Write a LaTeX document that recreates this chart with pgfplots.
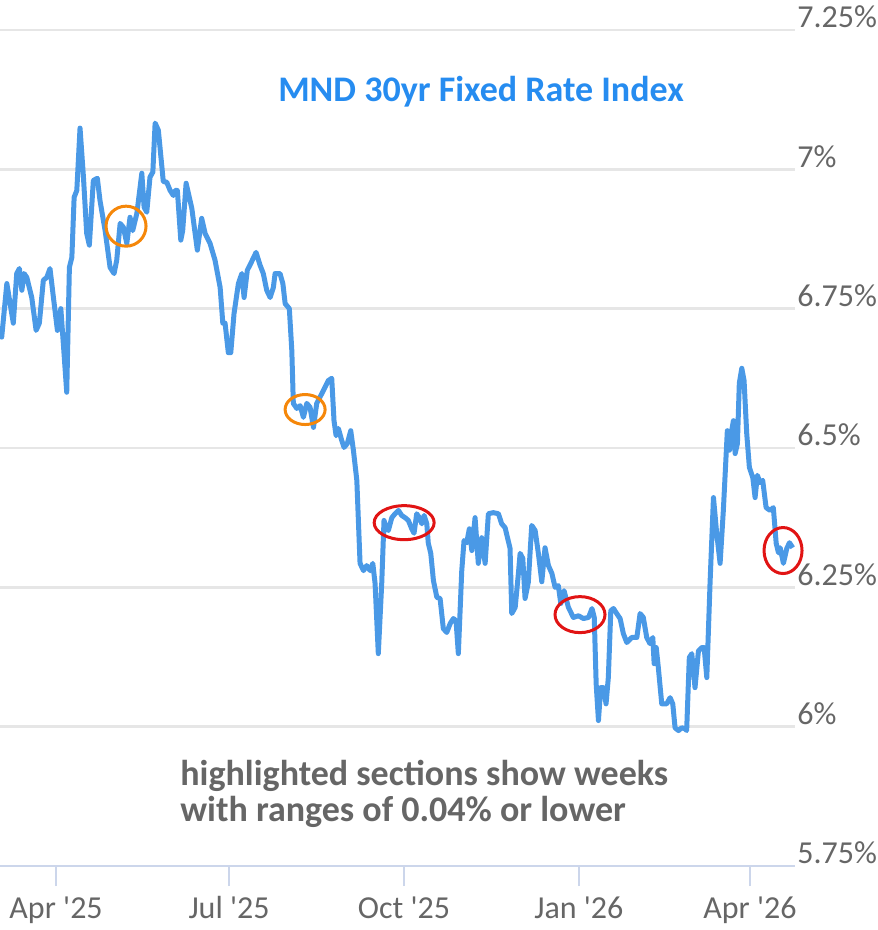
\documentclass[border=0pt]{standalone}
\usepackage{pgfplots}
\pgfplotsset{compat=1.18}
\usepackage{pgfplotstable}
\usepackage{fontspec}
\setmainfont{Carlito}[Ligatures=TeXOff]
\definecolor{rateline}{RGB}{74,153,230}
\definecolor{gridgray}{RGB}{230,230,230}
\definecolor{axisblue}{RGB}{204,214,235}
\definecolor{labelgray}{RGB}{102,102,102}
\definecolor{titleblue}{RGB}{38,140,240}
\definecolor{ringorange}{RGB}{245,135,10}
\definecolor{ringred}{RGB}{225,20,20}

% day 0 = 1 Apr 2025; rate in percent
\pgfplotstableread{
d v
-29.5 6.711
-28.6 6.699
-25.9 6.795
-22.5 6.724
-20.7 6.813
-19.3 6.822
-18.0 6.783
-16.8 6.813
-15.4 6.806
-12.8 6.770
-10.5 6.711
-8.8 6.724
-6.7 6.801
-4.9 6.806
-3.2 6.822
-1.4 6.770
0.7 6.711
2.5 6.750
3.8 6.688
5.6 6.600
7.0 6.824
8.3 6.842
9.5 6.950
10.9 6.962
12.6 7.074
14.4 6.986
16.1 6.885
17.5 6.864
19.6 6.980
21.7 6.984
23.1 6.944
25.8 6.890
28.4 6.824
30.5 6.813
31.9 6.837
33.7 6.903
35.4 6.896
37.2 6.867
38.9 6.914
40.3 6.890
42.5 6.921
45.1 6.993
46.3 6.932
47.7 6.923
49.4 6.986
50.9 6.995
52.1 7.083
53.8 7.070
56.4 6.978
58.2 6.977
60.0 6.962
61.7 6.953
62.6 6.962
63.8 6.962
65.6 6.873
66.6 6.890
68.4 6.975
71.4 6.930
74.3 6.855
76.6 6.912
78.4 6.885
81.0 6.867
83.6 6.837
86.3 6.788
87.7 6.724
88.9 6.724
90.6 6.671
91.9 6.671
93.6 6.741
95.9 6.795
97.7 6.813
98.9 6.770
100.6 6.819
102.4 6.831
105.2 6.851
107.3 6.828
109.0 6.813
110.8 6.783
112.6 6.770
114.3 6.788
115.2 6.813
117.8 6.813
119.3 6.795
120.5 6.759
122.7 6.750
124.0 6.675
124.8 6.580
126.6 6.571
128.4 6.576
130.1 6.555
131.9 6.580
133.6 6.573
135.4 6.537
137.1 6.580
140.6 6.603
143.2 6.621
145.0 6.625
146.2 6.549
147.3 6.522
148.5 6.535
150.3 6.513
151.5 6.501
153.2 6.508
155.0 6.531
156.4 6.496
158.2 6.442
159.9 6.293
161.7 6.280
163.4 6.289
165.2 6.280
166.6 6.293
167.8 6.257
169.5 6.131
171.3 6.257
172.5 6.370
173.6 6.357
174.8 6.352
176.6 6.375
178.3 6.382
180.1 6.388
181.8 6.379
183.6 6.375
185.3 6.370
187.1 6.355
188.3 6.347
189.7 6.382
191.1 6.375
192.4 6.364
193.6 6.379
195.0 6.364
195.8 6.329
197.1 6.311
198.5 6.262
200.3 6.232
202.0 6.230
203.7 6.176
205.5 6.169
207.3 6.185
209.0 6.194
210.4 6.190
211.6 6.131
213.4 6.280
214.6 6.334
216.0 6.330
217.4 6.355
218.7 6.316
220.4 6.375
222.1 6.293
223.9 6.339
225.7 6.293
227.4 6.382
230.0 6.384
232.7 6.382
234.4 6.364
236.2 6.357
238.8 6.320
239.7 6.203
241.5 6.214
243.2 6.275
244.1 6.311
245.5 6.302
246.7 6.230
248.4 6.259
250.2 6.361
252.0 6.352
253.7 6.311
255.5 6.260
257.2 6.321
259.0 6.289
260.8 6.275
262.5 6.250
264.2 6.253
265.5 6.221
267.2 6.244
269.5 6.214
272.1 6.196
274.8 6.199
277.4 6.194
280.1 6.196
281.9 6.212
283.1 6.196
284.1 6.077
285.3 6.011
286.5 6.070
287.9 6.070
289.3 6.041
290.5 6.088
291.8 6.208
293.2 6.212
294.9 6.203
296.7 6.194
298.4 6.167
300.2 6.151
302.8 6.160
305.5 6.160
307.2 6.203
308.9 6.196
310.7 6.160
312.4 6.149
313.9 6.160
314.6 6.113
315.7 6.142
316.8 6.106
318.6 6.041
321.2 6.041
323.0 6.052
324.4 6.041
325.6 5.998
327.4 5.993
329.1 5.998
330.9 5.996
331.7 5.993
333.1 6.124
334.4 6.131
336.1 6.070
337.9 6.136
339.7 6.142
340.9 6.142
342.3 6.088
344.0 6.257
345.8 6.411
347.5 6.347
349.3 6.293
351.0 6.388
353.1 6.531
354.2 6.496
355.4 6.531
356.3 6.549
357.2 6.490
358.4 6.508
359.4 6.616
360.7 6.643
361.9 6.621
363.3 6.526
364.7 6.465
366.5 6.447
367.7 6.411
368.9 6.451
370.3 6.438
371.7 6.442
373.5 6.393
375.6 6.388
377.3 6.393
378.8 6.329
380.0 6.312
380.9 6.321
382.6 6.293
384.4 6.320
385.8 6.330
387.5 6.321
}\ratedata

\begin{document}
\begin{tikzpicture}
\useasboundingbox (0,-32pt) rectangle (438.5pt,433pt);
\begin{axis}[
  at={(0,0)}, anchor=south west,
  scale only axis, width=397.5pt, height=418pt,
  xmin=-29.5, xmax=388.7, ymin=5.75, ymax=7.25,
  axis line style={draw=none},
  clip=false,
  ymajorgrids, grid style={color=gridgray, line width=1.2pt},
  xtick={0,91,183,275,365},
  xticklabels={Apr '25,Jul '25,Oct '25,Jan '26,Apr '26},
  xtick pos=bottom, tick align=outside, major tick length=10pt,
  xtick style={color=axisblue, line width=1pt},
  ytick={5.75,6,6.25,6.5,6.75,7,7.25},
  yticklabels={5.75\%,6\%,6.25\%,6.5\%,6.75\%,7\%,7.25\%},
  ytick pos=right, ytick style={draw=none},
  yticklabel style={anchor=base west, inner sep=0pt, xshift=-9pt, yshift=1pt},
  xticklabel style={anchor=north, inner sep=0pt, yshift=-5pt},
  tick label style={font=\fontsize{16}{19}\selectfont, text=labelgray},
  /pgf/number format/assume math mode=true,
]
\addplot[color=rateline, line width=2.5pt, line join=round, mark=none] table[x=d, y=v] {\ratedata};
\draw[color=axisblue, line width=1pt] (rel axis cs:0,0) -- (rel axis cs:1,0);
\draw[ringorange, line width=1.5pt] (axis cs:36.8,6.898) ellipse [x radius=10pt, y radius=10pt];
\draw[ringorange, line width=1.5pt] (axis cs:131.0,6.569) ellipse [x radius=10pt, y radius=7.5pt];
\draw[ringred, line width=1.5pt] (axis cs:183.1,6.366) ellipse [x radius=15pt, y radius=8.5pt];
\draw[ringred, line width=1.5pt] (axis cs:275.6,6.201) ellipse [x radius=12.5pt, y radius=9pt];
\draw[ringred, line width=1.5pt] (axis cs:382.4,6.316) ellipse [x radius=9.5pt, y radius=11.5pt];
\end{axis}
\node[font=\bfseries\fontsize{18}{21}\selectfont, text=titleblue] at (240.5pt,387pt) {MND 30yr Fixed Rate Index};
\node[font=\bfseries\fontsize{18}{21}\selectfont, text=labelgray, anchor=base west, inner sep=0pt] at (90pt,40pt) {highlighted sections show weeks};
\node[font=\bfseries\fontsize{18}{21}\selectfont, text=labelgray, anchor=base west, inner sep=0pt] at (90pt,22pt) {with ranges of 0.04\% or lower};
\end{tikzpicture}
\end{document}
